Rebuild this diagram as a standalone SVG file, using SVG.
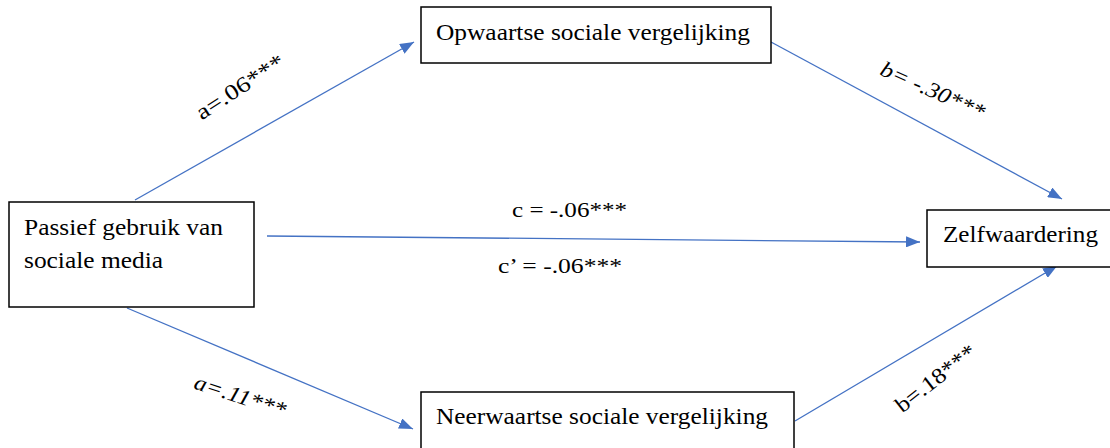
<svg xmlns="http://www.w3.org/2000/svg" width="1110" height="448" viewBox="0 0 1110 448">
<defs>
<style>
.box{fill:#fff;stroke:#000;stroke-width:1.5}
.t{font-family:"Liberation Serif","Times New Roman",serif;font-size:23px;fill:#000}
.lbl{font-family:"Liberation Serif","Times New Roman",serif;font-size:22px;fill:#000}
.it{font-style:italic}
.c{stroke:#4472C4;stroke-width:1.3;fill:none}
</style>
<marker id="ah" markerUnits="userSpaceOnUse" markerWidth="14" markerHeight="11" refX="14" refY="5.5" orient="auto">
<path d="M0,0 L14,5.5 L0,11 z" fill="#4472C4"/>
</marker>
</defs>
<rect width="1110" height="448" fill="#fff"/>
<g id="connectors">
<line class="c" x1="135" y1="200" x2="414" y2="42" marker-end="url(#ah)"/>
<line class="c" x1="771" y1="42" x2="1062" y2="199" marker-end="url(#ah)"/>
<line class="c" x1="267" y1="236" x2="920" y2="242" marker-end="url(#ah)"/>
<line class="c" x1="127" y1="308" x2="413" y2="429" marker-end="url(#ah)"/>
<line class="c" x1="795" y1="421" x2="1057" y2="266" marker-end="url(#ah)"/>
</g>
<g id="labels">
<text class="lbl" transform="translate(244,93) rotate(-33)" text-anchor="middle" textLength="101" lengthAdjust="spacingAndGlyphs">a=.06***</text>
<text class="lbl it" transform="translate(930,97) rotate(24)" text-anchor="middle" textLength="112" lengthAdjust="spacingAndGlyphs">b= -.30***</text>
<text class="lbl" x="569.5" y="217" text-anchor="middle" textLength="115" lengthAdjust="spacingAndGlyphs">c = -.06***</text>
<text class="lbl" x="560" y="273" text-anchor="middle" textLength="124" lengthAdjust="spacingAndGlyphs">c’ = -.06***</text>
<text class="lbl it" transform="translate(238,403) rotate(18)" text-anchor="middle" textLength="95" lengthAdjust="spacingAndGlyphs">a=.11***</text>
<text class="lbl" transform="translate(940,384) rotate(-38)" text-anchor="middle" textLength="96" lengthAdjust="spacingAndGlyphs">b=.18***</text>
</g>
<g id="node-passief">
<rect class="box" x="9" y="202" width="245" height="105"/>
<text class="t" x="24" y="235" textLength="199" lengthAdjust="spacingAndGlyphs">Passief gebruik van</text>
<text class="t" x="24" y="268" textLength="139" lengthAdjust="spacingAndGlyphs">sociale media</text>
</g>
<g id="node-opwaartse">
<rect class="box" x="421" y="7" width="350" height="56"/>
<text class="t" x="436" y="40" textLength="314" lengthAdjust="spacingAndGlyphs">Opwaartse sociale vergelijking</text>
</g>
<g id="node-neerwaartse">
<rect class="box" x="421" y="392" width="373" height="70"/>
<text class="t" x="436" y="424" textLength="332" lengthAdjust="spacingAndGlyphs">Neerwaartse sociale vergelijking</text>
</g>
<g id="node-zelfwaardering">
<rect class="box" x="927" y="210" width="190" height="57"/>
<text class="t" x="943" y="242" textLength="155" lengthAdjust="spacingAndGlyphs">Zelfwaardering</text>
</g>
</svg>
